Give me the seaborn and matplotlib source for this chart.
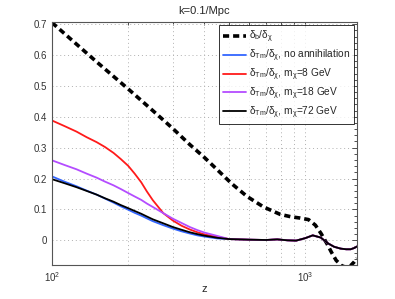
import numpy as np
import seaborn as sns
from matplotlib import pyplot as plt
from matplotlib.ticker import MultipleLocator, LogLocator, NullFormatter

# baryon / dark matter ratio (dashed)
z_b = [100, 150, 200, 250, 300, 350, 400, 450, 513, 589, 684, 796, 880, 955,
       1030, 1096, 1154, 1218, 1267, 1324, 1390, 1450, 1510, 1560, 1600]
delta_b = [0.705, 0.578, 0.49, 0.42, 0.362, 0.31, 0.268, 0.228, 0.183, 0.142,
           0.108, 0.084, 0.076, 0.072, 0.067, 0.049, 0.022, -0.011, -0.038,
           -0.065, -0.082, -0.088, -0.082, -0.07, -0.058]

# gas temperature ratios
z_t = [100, 112, 125, 137, 150, 162, 175, 187, 200, 212, 225, 237, 250, 275,
       300, 325, 350, 375, 400, 450, 500, 600, 700, 775, 850, 920, 1000, 1070,
       1150, 1230, 1300, 1380, 1450, 1510, 1560, 1600]
tail = [0.004, 0.002, 0.001, 0.003, 0.0, -0.001, 0.007, 0.016, 0.009, -0.01,
        -0.021, -0.027, -0.029, -0.029, -0.025, -0.02]
t_noann = [0.207, 0.19, 0.175, 0.161, 0.148, 0.135, 0.122, 0.11, 0.099, 0.089,
           0.08, 0.071, 0.062, 0.049, 0.038, 0.029, 0.022, 0.016, 0.012, 0.006] + tail
t_8gev = [0.388, 0.37, 0.352, 0.334, 0.318, 0.302, 0.283, 0.263, 0.241, 0.216,
          0.188, 0.158, 0.13, 0.088, 0.064, 0.047, 0.035, 0.026, 0.019, 0.011] + tail
t_18gev = [0.259, 0.244, 0.23, 0.216, 0.203, 0.19, 0.178, 0.166, 0.153, 0.142,
           0.131, 0.119, 0.108, 0.088, 0.07, 0.056, 0.043, 0.033, 0.025, 0.014] + tail
t_72gev = [0.198, 0.185, 0.172, 0.16, 0.148, 0.136, 0.125, 0.114, 0.104, 0.095,
           0.086, 0.077, 0.068, 0.055, 0.043, 0.034, 0.026, 0.02, 0.015, 0.008] + tail

labels = [r'$\delta_b/\delta_\chi$',
          r'$\delta_{Tm}/\delta_\chi$, no annihilation',
          r'$\delta_{Tm}/\delta_\chi$, $m_\chi$=8 GeV',
          r'$\delta_{Tm}/\delta_\chi$, $m_\chi$=18 GeV',
          r'$\delta_{Tm}/\delta_\chi$, $m_\chi$=72 GeV']
colors = ['black', '#3366ff', '#ff1a1a', '#b44cff', 'black']

sns.set_style('white')
plt.rcParams['font.family'] = ['Liberation Sans', 'DejaVu Sans']
plt.rcParams['mathtext.default'] = 'regular'

fig = plt.figure(figsize=(3.95, 2.99), dpi=100)
ax = fig.add_axes([0.1316, 0.1137, 0.7722, 0.8127])

sns.lineplot(x=z_b, y=delta_b, ax=ax, color=colors[0], lw=2.6,
             linestyle=(0, (1.7, 1.1)), label=labels[0])
for y, lab, c in zip([t_noann, t_8gev, t_18gev, t_72gev], labels[1:], colors[1:]):
    sns.lineplot(x=z_t, y=y, ax=ax, color=c, lw=1.3, label=lab)

ax.set_xscale('log')
ax.set_xlim(100, 1600)
ax.set_ylim(-0.08, 0.707)
ax.yaxis.set_minor_locator(MultipleLocator(0.02))
ax.xaxis.set_major_locator(LogLocator(base=10))
ax.xaxis.set_minor_locator(LogLocator(base=10, subs=np.arange(2, 10)))
ax.xaxis.set_minor_formatter(NullFormatter())
ax.set_yticks([0, 0.1, 0.2, 0.3, 0.4, 0.5, 0.6, 0.7])
ax.set_yticklabels(['0', '0.1', '0.2', '0.3', '0.4', '0.5', '0.6', '0.7'])

ax.grid(True, which='major', color='#b0b0b0', linestyle=(0, (1, 3)), lw=0.7)
ax.grid(True, which='minor', axis='x', color='#b0b0b0', linestyle=(0, (1, 3)), lw=0.7)
ax.tick_params(which='both', direction='in', top=True, right=True,
               labelsize=7, colors='#333333', width=0.6)
ax.tick_params(which='major', length=3.5)
ax.tick_params(which='minor', length=2)
ax.tick_params(axis='x', pad=4)
for s in ax.spines.values():
    s.set_color('#555555')
    s.set_linewidth(0.8)

ax.set_title('k=0.1/Mpc', fontsize=8, pad=6)
ax.set_xlabel('z', fontsize=8, labelpad=0)
ax.set_ylabel('')

leg = ax.legend(loc='upper right', fontsize=7.3, frameon=True, fancybox=False,
                handlelength=2.3, borderaxespad=0.3, labelspacing=0.25,
                borderpad=0.35, handletextpad=0.3)
leg.get_frame().set_edgecolor('black')
leg.get_frame().set_linewidth(0.7)

fig.savefig('out.png', dpi=100)
